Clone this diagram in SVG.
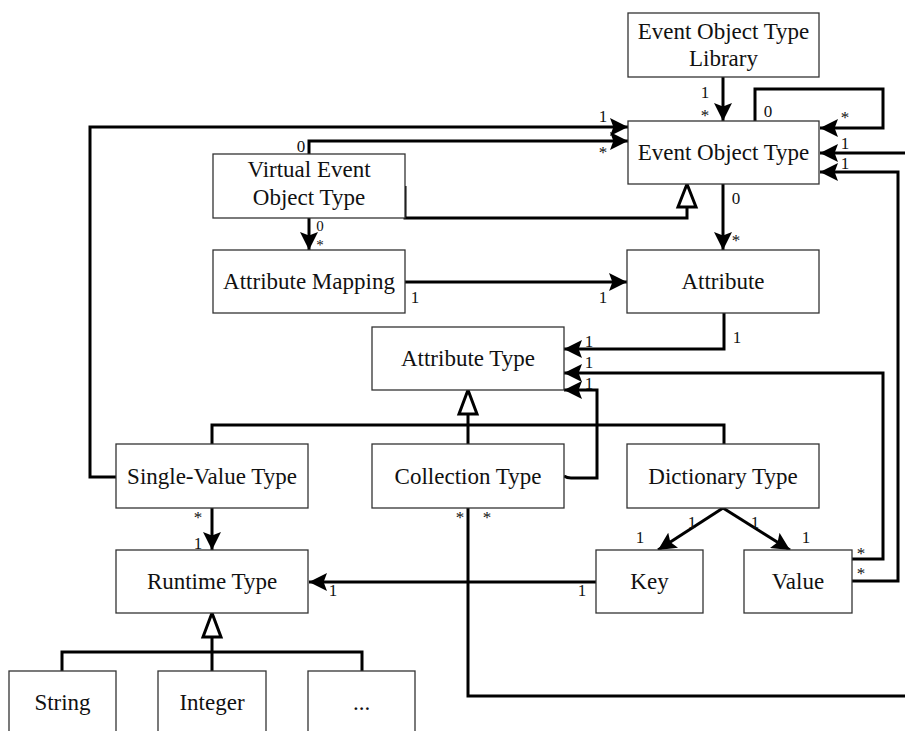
<svg xmlns="http://www.w3.org/2000/svg" width="905" height="731" viewBox="0 0 905 731">
<style>
.box{fill:#fff;stroke:#333;stroke-width:1.3}
.t{font-family:"Liberation Serif","Times New Roman",serif;font-size:23px;fill:#111;text-anchor:middle}
.m{font-family:"Liberation Serif","Times New Roman",serif;font-size:17px;fill:#111;text-anchor:middle}
.s{font-size:15px}
.c{fill:none;stroke:#000;stroke-width:3}
.a{marker-end:url(#arr)}
.g{fill:#fff;stroke:#000;stroke-width:3}
</style>
<defs>
<marker id="arr" markerUnits="userSpaceOnUse" markerWidth="18" markerHeight="18" refX="16" refY="8" orient="auto" viewBox="0 0 16 16">
<path d="M0,0 L16,8 L0,16 L3,8 z" fill="#000"/>
</marker>
</defs>
<g id="connectors">
<path class="c a" d="M723,77 V121"/>
<path class="c a" d="M755,121 V89 H883 V128 H820"/>
<path class="c a" d="M905,153 H820"/>
<path class="c a" d="M852,581 H898 V172 H820"/>
<path class="c a" d="M116,477 H90 V127 H628"/>
<path class="c a" d="M309,154 V141 H628"/>
<path class="c" d="M405,186 V218 H687 V207"/>
<path class="g" d="M687,184 L696,207 H678 Z"/>
<path class="c a" d="M723,184 V250"/>
<path class="c a" d="M309,218 V250"/>
<path class="c a" d="M405,282 H627"/>
<path class="c a" d="M724,313 V349 H564"/>
<path class="c a" d="M852,559 H883 V373 H564"/>
<path class="c a" d="M564,476 Q567,478 571,478 H597 V390 H564"/>
<path class="c" d="M212,444 V425 H724 V444 M468,444 V414"/>
<path class="g" d="M468,390 L477,414 H459 Z"/>
<path class="c a" d="M723,508 L658,550"/>
<path class="c a" d="M723,508 L790,550"/>
<path class="c a" d="M212,508 V550"/>
<path class="c a" d="M596,582 H309"/>
<path class="c" d="M468,508 V696 H905"/>
<path class="c" d="M62,671 V652 H362 V671 M212,671 V637"/>
<path class="g" d="M212,613 L221,637 H203 Z"/>
</g>
<g id="labels">
<text class="m" x="705" y="98">1</text>
<text class="m" x="705" y="121">*</text>
<text class="m" x="768" y="117">0</text>
<text class="m" x="845" y="123">*</text>
<text class="m" x="845" y="149">1</text>
<text class="m" x="845" y="169">1</text>
<text class="m" x="603" y="122">1</text>
<text class="m" x="603" y="158">*</text>
<text class="m" x="301" y="152">0</text>
<text class="m" x="736" y="204">0</text>
<text class="m" x="736" y="246">*</text>
<text class="m s" x="320" y="231">0</text>
<text class="m s" x="320" y="250">*</text>
<text class="m" x="415" y="303">1</text>
<text class="m" x="603" y="303">1</text>
<text class="m" x="737" y="343">1</text>
<text class="m" x="589" y="347">1</text>
<text class="m" x="589" y="368">1</text>
<text class="m" x="589" y="389">1</text>
<text class="m" x="198" y="523">*</text>
<text class="m" x="198" y="549">1</text>
<text class="m" x="460" y="523">*</text>
<text class="m" x="487" y="523">*</text>
<text class="m" x="640" y="543">1</text>
<text class="m" x="692" y="528">1</text>
<text class="m" x="755" y="528">1</text>
<text class="m" x="806" y="543">1</text>
<text class="m" x="861" y="559">*</text>
<text class="m" x="861" y="579">*</text>
<text class="m" x="582" y="596">1</text>
<text class="m" x="333" y="596">1</text>
</g>
<g id="n-library"><rect class="box" x="628" y="13" width="191" height="64"/><text class="t" x="723.5" y="39">Event Object Type</text><text class="t" x="723.5" y="66">Library</text></g>
<g id="n-eot"><rect class="box" x="628" y="121" width="191" height="63"/><text class="t" x="723.5" y="160">Event Object Type</text></g>
<g id="n-veot"><rect class="box" x="213" y="154" width="192" height="64"/><text class="t" x="309" y="177">Virtual Event</text><text class="t" x="309" y="205">Object Type</text></g>
<g id="n-amap"><rect class="box" x="213" y="250" width="192" height="63"/><text class="t" x="309" y="289">Attribute Mapping</text></g>
<g id="n-attr"><rect class="box" x="627" y="250" width="192" height="63"/><text class="t" x="723" y="289">Attribute</text></g>
<g id="n-atype"><rect class="box" x="372" y="327" width="192" height="63"/><text class="t" x="468" y="366">Attribute Type</text></g>
<g id="n-single"><rect class="box" x="116" y="444" width="192" height="64"/><text class="t" x="212" y="484">Single-Value Type</text></g>
<g id="n-coll"><rect class="box" x="372" y="444" width="192" height="64"/><text class="t" x="468" y="484">Collection Type</text></g>
<g id="n-dict"><rect class="box" x="627" y="444" width="192" height="64"/><text class="t" x="723" y="484">Dictionary Type</text></g>
<g id="n-runtime"><rect class="box" x="116" y="550" width="192" height="63"/><text class="t" x="212" y="589">Runtime Type</text></g>
<g id="n-key"><rect class="box" x="596" y="550" width="107" height="63"/><text class="t" x="649.5" y="589">Key</text></g>
<g id="n-value"><rect class="box" x="744" y="550" width="108" height="63"/><text class="t" x="798" y="589">Value</text></g>
<g id="n-string"><rect class="box" x="9" y="671" width="107" height="80"/><text class="t" x="62.5" y="710">String</text></g>
<g id="n-integer"><rect class="box" x="158" y="671" width="108" height="80"/><text class="t" x="212" y="710">Integer</text></g>
<g id="n-more"><rect class="box" x="308" y="671" width="107" height="80"/><text class="t" x="361.5" y="710">...</text></g>
</svg>
